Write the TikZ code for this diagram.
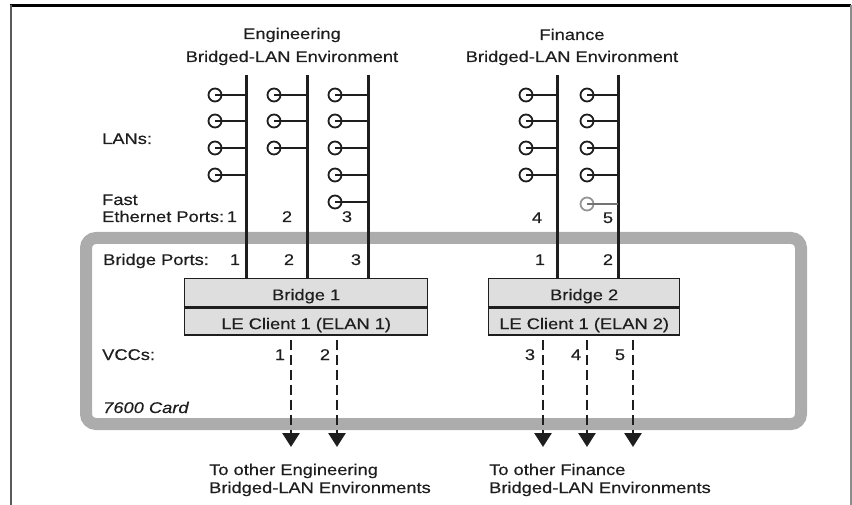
\documentclass[tikz,border=0pt]{standalone}
\usepackage{fontspec}
\setmainfont{Liberation Sans}[FakeStretch=1.18,FakeBold=0.4]
\usetikzlibrary{arrows.meta}
\definecolor{framegray}{RGB}{172,172,172}
\definecolor{boxfill}{RGB}{222,222,222}
\definecolor{ink}{RGB}{30,30,30}
\definecolor{faint}{RGB}{150,150,150}
\begin{document}
\begin{tikzpicture}[x=1pt,y=-1pt,
  lbl/.style={font=\fontsize{15.5}{18}\selectfont, text=ink, inner sep=0pt},
  bus/.style={line width=3pt, draw=ink},
  stub/.style={line width=1.8pt, draw=ink},
  lan/.style={circle, draw=ink, line width=1.8pt, minimum size=13pt, inner sep=0pt},
  part/.style={draw=ink, fill=boxfill, line width=1.4pt, inner sep=0pt, anchor=north west,
    text height=15pt, text depth=0pt, font=\fontsize{15.5}{18}\selectfont, text=ink},
  vcc/.style={line width=2.8pt, draw=ink, dash pattern=on 10pt off 5pt, dash phase=11pt,
    -{Triangle[length=14pt,width=17pt]}},
  card/.style={draw=framegray, line width=12pt, rounded corners=10pt}]
\useasboundingbox (0,0) rectangle (852,505);

% outer frame (open at the bottom)
\draw[line width=2.5pt, black] (9.5,5.5) -- (851,5.5);
\draw[line width=2pt, black!65] (10.5,505) -- (10.5,5);
\draw[line width=2pt, black!45] (850.5,505) -- (850.5,5);

% 7600 card
\draw[card] (86,238) rectangle (801,424);

% titles
\node[lbl, anchor=base] (engt1) at (292,39) {Engineering};
\node[lbl, anchor=base] (engt2) at (292,62) {Bridged-LAN Environment};
\node[lbl, anchor=base] (fint1) at (572,40) {Finance};
\node[lbl, anchor=base] (fint2) at (572,62) {Bridged-LAN Environment};

% left labels
\node[lbl, anchor=base west] (lans) at (102,144) {LANs:};
\node[lbl, anchor=base west] (fast) at (102,205) {Fast};
\node[lbl, anchor=base west] (ethp) at (102,222) {Ethernet Ports:};
\node[lbl, anchor=base west] (brp) at (103,265) {Bridge Ports:};
\node[lbl, anchor=base west] (vccs) at (102,360) {VCCs:};
\node[lbl, anchor=base west, font=\fontsize{15.5}{18}\selectfont\itshape] (card) at (103,413) {7600 Card};

% bridges
\node[part, minimum width=243pt, minimum height=28pt] (br1) at (184,278) {Bridge 1};
\node[part, minimum width=243pt, minimum height=27pt] (le1) at (br1.south west) {LE Client 1 (ELAN 1)};
\node[part, minimum width=191pt, minimum height=28pt] (br2) at (488,278) {Bridge 2};
\node[part, minimum width=191pt, minimum height=27pt] (le2) at (br2.south west) {LE Client 1 (ELAN 2)};

% buses
\coordinate (b1) at (246,75);
\coordinate (b2) at (307,75);
\coordinate (b3) at (368,75);
\coordinate (b4) at (557,75);
\coordinate (b5) at (618,75);
\foreach \b/\br in {b1/br1,b2/br1,b3/br1,b4/br2,b5/br2}
  \draw[bus] (\b) -- (\b |- \br.north);

% LAN stations
\foreach \c/\cx/\bb/\n in {1/215/b1/4, 2/274/b2/3, 3/335/b3/5, 4/526/b4/4, 5/587/b5/4} {
  \foreach \r/\cy in {1/95,2/121,3/148,4/175,5/202} {
    \ifnum\r>\n\relax\else
      \node[lan] (l\c\r) at (\cx,\cy) {};
      \draw[stub] (l\c\r.center) -- (l\c\r.center -| \bb);
    \fi
  }
}
\node[lan, draw=faint] (l55) at (587,204) {};
\draw[stub, draw=black!55] (l55.center) -- (l55.center -| b5);

% fast ethernet port numbers
\node[lbl, anchor=base] (fe1) at (232,222) {1};
\node[lbl, anchor=base] (fe2) at (287,222) {2};
\node[lbl, anchor=base] (fe3) at (347,222) {3};
\node[lbl, anchor=base] (fe4) at (537,223) {4};
\node[lbl, anchor=base] (fe5) at (608,223) {5};

% bridge port numbers
\node[lbl, anchor=base] (bp1) at (235,265) {1};
\node[lbl, anchor=base] (bp2) at (289,265) {2};
\node[lbl, anchor=base] (bp3) at (356,265) {3};
\node[lbl, anchor=base] (bp4) at (540,265) {1};
\node[lbl, anchor=base] (bp5) at (608,265) {2};

% VCCs
\coordinate (v1) at (291,447);
\coordinate (v2) at (337,447);
\coordinate (v3) at (543,447);
\coordinate (v4) at (587,447);
\coordinate (v5) at (633,447);
\foreach \v/\le in {v1/le1,v2/le1,v3/le2,v4/le2,v5/le2}
  \draw[vcc] (\v |- \le.south) -- (\v);
\node[lbl, anchor=base] (vn1) at (280,360) {1};
\node[lbl, anchor=base] (vn2) at (325,360) {2};
\node[lbl, anchor=base] (vn3) at (530,360) {3};
\node[lbl, anchor=base] (vn4) at (576,360) {4};
\node[lbl, anchor=base] (vn5) at (620,360) {5};

% bottom labels
\node[lbl, anchor=base west] (te1) at (209,475) {To other Engineering};
\node[lbl, anchor=base west] (te2) at (209,493) {Bridged-LAN Environments};
\node[lbl, anchor=base west] (tf1) at (489,475) {To other Finance};
\node[lbl, anchor=base west] (tf2) at (489,493) {Bridged-LAN Environments};
\end{tikzpicture}
\end{document}
